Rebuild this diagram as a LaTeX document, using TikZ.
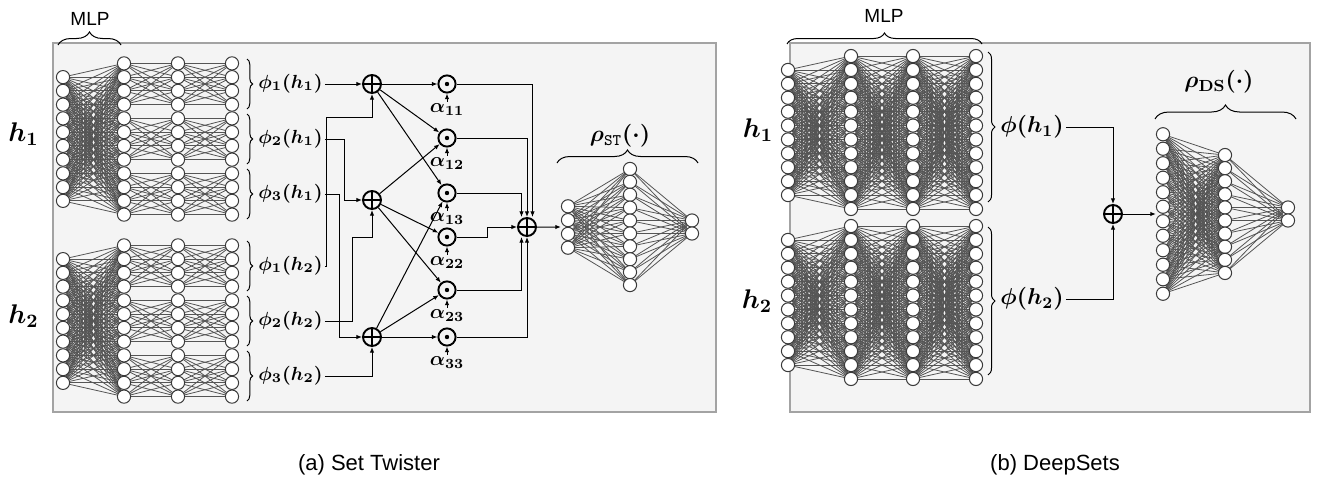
\RequirePackage{fix-cm}
\documentclass[tikz,border=0pt]{standalone}
\usepackage[no-math]{fontspec}
\newfontfamily\lsans{Liberation Sans}
\usepackage{amsmath}
\usepackage{bm}
\usetikzlibrary{decorations.pathreplacing,calc,arrows.meta}
\pgfdeclarelayer{panel}
\pgfdeclarelayer{wires}
\pgfsetlayers{panel,wires,main}
\definecolor{panelfill}{HTML}{F4F4F4}
\definecolor{panelline}{HTML}{A3A3A3}
\definecolor{wire}{HTML}{555555}
\definecolor{ring}{HTML}{3A3A3A}
\begin{document}
\begin{tikzpicture}[x=0.5pt,y=-0.5pt,
 nn/.style={circle,draw=ring,fill=white,line width=0.5pt,minimum size=6.6pt,inner sep=0pt},
 wireline/.style={draw=wire,line width=0.4pt},
 arr/.style={-{Latex[length=2.8pt,width=2.2pt]},line width=0.5pt},
 plus/.style={circle,draw,line width=0.95pt,minimum size=9pt,inner sep=0pt,
   path picture={\draw[line width=0.95pt] (path picture bounding box.north)--(path picture bounding box.south) (path picture bounding box.west)--(path picture bounding box.east);}},
 dotop/.style={circle,draw,line width=0.95pt,minimum size=8.6pt,inner sep=0pt,
   path picture={\fill (path picture bounding box.center) circle (1.1pt);}},
 brv/.style={decorate,decoration={brace,amplitude=#1},line width=0.5pt},
 flab/.style={font=\fontsize{9.5}{11}\selectfont,inner sep=1pt},
 flabb/.style={font=\fontsize{11.5}{13}\selectfont,inner sep=1pt},
 alab/.style={font=\fontsize{10}{11}\selectfont,inner sep=1pt},
 hlab/.style={font=\fontsize{13.5}{15}\selectfont,inner sep=0pt},
 rlab/.style={font=\fontsize{11.5}{13}\selectfont,inner sep=0pt},
 slab/.style={font=\lsans\fontsize{9.5}{11}\selectfont,inner sep=0pt},
 caplab/.style={font=\lsans\fontsize{11}{13}\selectfont,inner sep=0pt}
]
\useasboundingbox (0,0) rectangle (1319,477);
\begin{pgfonlayer}{panel}
\fill[white] (0,0) rectangle (1319,477);
\filldraw[fill=panelfill,draw=panelline,line width=0.6pt] (53,43) rectangle (716,412);
\filldraw[fill=panelfill,draw=panelline,line width=0.6pt] (790,43) rectangle (1310,412);
\end{pgfonlayer}

% ---------- Set Twister: phi networks ----------
\foreach \pre/\c in {A/139,B/321}{
  \foreach \k in {0,...,9} \node[nn] (\pre0-\k) at (63,{\c+(\k-4.5)*13.75}) {};
  \foreach \L/\x in {1/124,2/178,3/232}
    \foreach \k in {0,...,11} \node[nn] (\pre\L-\k) at (\x,{\c+(\k-5.5)*13.75}) {};
  \foreach \g in {-55,0,55}
    \draw[brv=2.8pt] (247,{\c+\g-25}) -- (247,{\c+\g+25});
}
\begin{pgfonlayer}{wires}
\foreach \pre in {A,B}{
  \foreach \i in {0,...,9} \foreach \j in {0,...,11}
    \draw[wireline] (\pre0-\i.center) -- (\pre1-\j.center);
  \foreach \b in {0,4,8} \foreach \i in {0,...,3} \foreach \j in {0,...,3}{
    \pgfmathtruncatemacro\p{\b+\i}\pgfmathtruncatemacro\q{\b+\j}
    \draw[wireline] (\pre1-\p.center) -- (\pre2-\q.center) (\pre2-\p.center) -- (\pre3-\q.center);}
}
\end{pgfonlayer}

\node[hlab,anchor=base] (h1a) at (23.5,141) {$\bm{h_1}$};
\node[hlab,anchor=base] (h2a) at (23.5,323) {$\bm{h_2}$};
\draw[brv=6.5pt] (58,45) -- (121,45);
\node[slab,anchor=base] (mlpa) at (90,25) {MLP};

\node[flab,anchor=west] (p11) at (256,84) {$\bm{\phi_1(h_1)}$};
\node[flab,anchor=west] (p21) at (256,139) {$\bm{\phi_2(h_1)}$};
\node[flab,anchor=west] (p31) at (256,194) {$\bm{\phi_3(h_1)}$};
\node[flab,anchor=west] (p12) at (256,266) {$\bm{\phi_1(h_2)}$};
\node[flab,anchor=west] (p22) at (256,321) {$\bm{\phi_2(h_2)}$};
\node[flab,anchor=west] (p32) at (256,376) {$\bm{\phi_3(h_2)}$};

\node[plus] (s1) at (372,84) {};
\node[plus] (s2) at (372,200) {};
\node[plus] (s3) at (372,337) {};
\draw[arr] (p11.east) -- (s1.west);
\draw[arr] (p12.east) -| (326,117) -| (s1.south);
\draw[arr] (p21.east) -| (344,200) -- (s2.west);
\draw[arr] (p22.east) -| (352,237) -| (s2.south);
\draw[arr] (p31.east) -| (339,337) -- (s3.west);
\draw[arr] (p32.east) -| (s3.south);

\foreach \ij/\y in {11/84,12/138,13/193,22/237,23/290,33/337}{
  \node[dotop] (d\ij) at (447,\y) {};
  \node[alab] (al\ij) at (447,{\y+26}) {$\bm{\alpha_{\ij}}$};
  \draw[arr] (al\ij.north) -- (d\ij.south);
}
\draw[arr] (s1) -- (d11);
\draw[arr] (s1) -- (d12);
\draw[arr] (s1) -- (d13);
\draw[arr] (s2) -- (d12);
\draw[arr] (s2) -- (d22);
\draw[arr] (s2) -- (d23);
\draw[arr] (s3) -- (d13);
\draw[arr] (s3) -- (d23);
\draw[arr] (s3) -- (d33);

\node[plus] (sf) at (527,227) {};
\draw[arr] (d11.east) -| ($(sf.north)+(5.5,0)$);
\draw[arr] (d12.east) -| (sf.north);
\draw[arr] (d13.east) -| ($(sf.north)+(-5.5,0)$);
\draw[arr] (d22.east) -| (487,227) -- (sf.west);
\draw[arr] (d23.east) -| ($(sf.south)+(-5.5,0)$);
\draw[arr] (d33.east) -| (sf.south);

% rho_ST
\foreach \k in {0,...,3} \node[nn] (R0-\k) at (568,{227+(\k-1.5)*13.8}) {};
\foreach \k in {0,...,9} \node[nn] (R1-\k) at (630,{227+(\k-4.5)*12.9}) {};
\foreach \k in {0,1} \node[nn] (R2-\k) at (692,{227+(\k-0.5)*13}) {};
\begin{pgfonlayer}{wires}
\foreach \i in {0,...,3} \foreach \j in {0,...,9} \draw[wireline] (R0-\i.center) -- (R1-\j.center);
\foreach \i in {0,...,9} \foreach \j in {0,1} \draw[wireline] (R1-\i.center) -- (R2-\j.center);
\end{pgfonlayer}
\draw[arr] (sf.east) -- ($(R0-1.west)!0.5!(R0-2.west)$);
\draw[brv=6.5pt] (557,163) -- (698,163);
\node[rlab] (rst) at (620,136) {$\bm{\rho_{\mathtt{ST}}(\cdot)}$};

% ---------- DeepSets ----------
\foreach \pre/\c in {C/132.5,D/302.5}{
  \foreach \k in {0,...,9} \node[nn] (\pre0-\k) at (788,{\c+(\k-4.5)*13.9}) {};
  \foreach \L/\x in {1/851,2/913,3/976}
    \foreach \k in {0,...,11} \node[nn] (\pre\L-\k) at (\x,{\c+(\k-5.5)*13.9}) {};
}
\begin{pgfonlayer}{wires}
\foreach \pre in {C,D}{
  \foreach \i in {0,...,9} \foreach \j in {0,...,11}
    \draw[wireline] (\pre0-\i.center) -- (\pre1-\j.center);
  \foreach \i in {0,...,11} \foreach \j in {0,...,11}
    \draw[wireline] (\pre1-\i.center) -- (\pre2-\j.center) (\pre2-\i.center) -- (\pre3-\j.center);
}
\end{pgfonlayer}
\node[hlab,anchor=base] (h1b) at (758,137) {$\bm{h_1}$};
\node[hlab,anchor=base] (h2b) at (757,308) {$\bm{h_2}$};
\draw[brv=5.5pt] (787,44) -- (982,44);
\node[slab,anchor=base] (mlpb) at (884,22) {MLP};
\draw[brv=3.5pt] (988,52) -- (988,202);
\draw[brv=3.5pt] (988,227) -- (988,375);
\node[flabb,anchor=west] (q1) at (998,127) {$\bm{\phi(h_1)}$};
\node[flabb,anchor=west] (q2) at (998,299) {$\bm{\phi(h_2)}$};
\node[plus] (sds) at (1113,214) {};
\draw[arr] (q1.east) -| (sds.north);
\draw[arr] (q2.east) -| (sds.south);

\foreach \k in {0,...,11} \node[nn] (E0-\k) at (1163,{214+(\k-5.5)*14.5}) {};
\foreach \k in {0,...,9} \node[nn] (E1-\k) at (1225,{214+(\k-4.5)*13.1}) {};
\foreach \k in {0,1} \node[nn] (E2-\k) at (1288,{214+(\k-0.5)*13}) {};
\begin{pgfonlayer}{wires}
\foreach \i in {0,...,11} \foreach \j in {0,...,9} \draw[wireline] (E0-\i.center) -- (E1-\j.center);
\foreach \i in {0,...,9} \foreach \j in {0,1} \draw[wireline] (E1-\i.center) -- (E2-\j.center);
\end{pgfonlayer}
\draw[arr] (sds.east) -- ($(E0-5.west)!0.5!(E0-6.west)$);
\draw[brv=7pt] (1155,119) -- (1296,119);
\node[rlab] (rds) at (1219,82) {$\bm{\rho_{\mathbf{DS}}(\cdot)}$};

\node[caplab,anchor=base] (capa) at (369,470) {(a) Set Twister};
\node[caplab,anchor=base] (capb) at (1055,470) {(b) DeepSets};
\end{tikzpicture}
\end{document}
